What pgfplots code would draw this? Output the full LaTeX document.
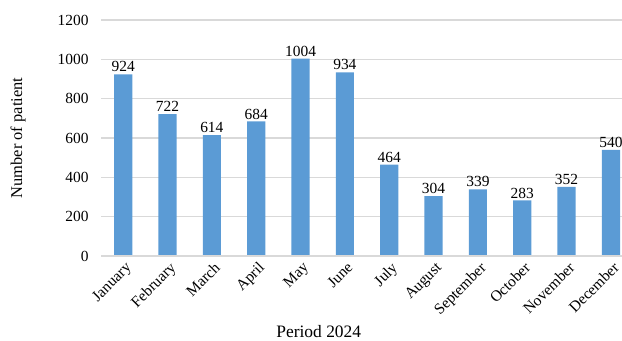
\documentclass[border=0pt]{standalone}
\usepackage{pgfplots}
\pgfplotsset{compat=1.18}
\usepackage{fontspec}
\setmainfont{Liberation Serif}
\definecolor{barblue}{HTML}{5B9BD5}
\definecolor{gridgray}{HTML}{D9D9D9}
\begin{document}
\begin{tikzpicture}
\path[use as bounding box] (0,0) rectangle (622bp,341bp);
\begin{axis}[
  at={(101bp,85bp)}, anchor=south west,
  scale only axis, width=521bp, height=236bp,
  ymin=0, ymax=1200, ytick={0,200,...,1200},
  xmin=-0.5, xmax=11.25,
  xtick={0,...,11},
  xticklabels={January,February,March,April,May,June,July,August,September,October,November,December},
  xticklabel style={rotate=45, anchor=north east, inner sep=0.5pt, yshift=-4bp, xshift=-2bp, font=\fontsize{15.5}{17}\selectfont},
  /pgf/number format/assume math mode=true,
  /pgf/number format/1000 sep={},
  major tick length=0pt,
  axis lines*=left,
  axis line style={draw=none},
  ymajorgrids, grid style={gridgray, line width=1.2pt},
  ybar, bar width=0.41,
  nodes near coords,
  nodes near coords style={font=\fontsize{15.5}{17}\selectfont, /pgf/number format/assume math mode=true, inner sep=2pt},
  ylabel={Number of patient},
  ylabel style={font=\fontsize{16.5}{18}\selectfont, at={(axis description cs:-0.159,0.5)}, anchor=center},
  xlabel={Period 2024},
  xlabel style={font=\fontsize{17.5}{19}\selectfont, at={(axis description cs:0.418,-0.318)}, anchor=center},
  yticklabel style={font=\fontsize{15.5}{17}\selectfont, anchor=east, xshift=-9bp},
  clip=false,
]
\addplot[fill=barblue, draw=none] coordinates {
 (0,924) (1,722) (2,614) (3,684) (4,1004) (5,934) (6,464) (7,304) (8,339) (9,283) (10,352) (11,540)};
\draw[gridgray, line width=1.5pt] (axis cs:-0.5,0) -- (axis cs:11.25,0);
\end{axis}
\end{tikzpicture}
\end{document}
